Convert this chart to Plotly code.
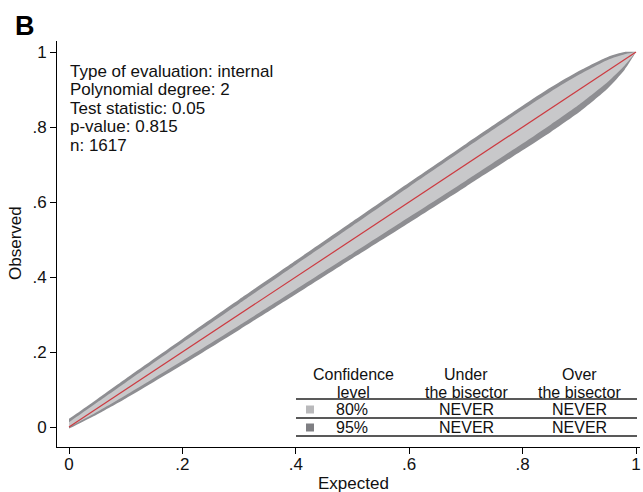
import plotly.graph_objects as go

# ---- data ----
grid_x = [0, 0.02, 0.05, 0.1, 0.2, 0.3, 0.4, 0.5, 0.6, 0.7, 0.8, 0.85, 0.9, 0.95, 0.98, 1.0]
# offsets of the confidence band edges from the bisector (observed units)
up95 = [0.022, 0.023, 0.025, 0.029, 0.035, 0.040, 0.044, 0.048, 0.052, 0.055, 0.057, 0.056, 0.050, 0.037, 0.020, 0.0]
lo95 = [0.004, 0.009, 0.016, 0.024, 0.034, 0.041, 0.046, 0.050, 0.055, 0.059, 0.062, 0.063, 0.060, 0.047, 0.027, 0.0]
up80 = [0.013, 0.014, 0.016, 0.019, 0.025, 0.029, 0.033, 0.037, 0.041, 0.044, 0.046, 0.045, 0.040, 0.029, 0.014, 0.0]
lo80 = [0.000, 0.004, 0.009, 0.015, 0.023, 0.029, 0.033, 0.037, 0.040, 0.043, 0.044, 0.043, 0.040, 0.030, 0.016, 0.0]

bisector_x = [0, 1]
bisector_y = [0, 1]

info_lines = ["Type of evaluation: internal", "Polynomial degree: 2",
              "Test statistic: 0.05", "p-value: 0.815", "n: 1617"]
table_cols = ["Under", "Over"]
table_levels = ["80%", "95%"]
table_under = ["NEVER", "NEVER"]
table_over = ["NEVER", "NEVER"]

tick_vals = [0, 0.2, 0.4, 0.6, 0.8, 1]
tick_text = ["0", ".2", ".4", ".6", ".8", "1"]

LIGHT = "#c8c8ca"
DARK = "#8e8e92"
RED = "#cc3a40"
FONT = "Liberation Sans, Arial, sans-serif"
FS = 17
FS_TAB = 16

# ---- geometry ----
W, H = 643, 492
L, R, T, B = 57, 3, 41, 45
X0PX, X1PX = 69, 636   # pixel of x=0 and x=1
Y0PX, Y1PX = 427, 52   # pixel of y=0 and y=1
sx = (X1PX - X0PX)
sy = (Y0PX - Y1PX)
xr = [(L - X0PX) / sx, (W - R - X0PX) / sx]
yr = [(Y0PX - (H - B)) / sy, (Y0PX - T) / sy]

def dx(px):
    return (px - X0PX) / sx

def dy(py):
    return (Y0PX - py) / sy

def band(up, lo):
    xs = list(grid_x) + list(reversed(grid_x))
    ys = [x + u for x, u in zip(grid_x, up)] + [x - l for x, l in reversed(list(zip(grid_x, lo)))]
    return xs, ys

fig = go.Figure()
bx, by = band(up95, lo95)
fig.add_trace(go.Scatter(x=bx, y=by, fill="toself", fillcolor=DARK, line=dict(width=0, shape="spline", smoothing=0.6),
                         mode="lines", hoverinfo="skip", showlegend=False))
bx, by = band(up80, lo80)
fig.add_trace(go.Scatter(x=bx, y=by, fill="toself", fillcolor=LIGHT, line=dict(width=0, shape="spline", smoothing=0.6),
                         mode="lines", hoverinfo="skip", showlegend=False))
fig.add_trace(go.Scatter(x=bisector_x, y=bisector_y, mode="lines", line=dict(color=RED, width=1.2),
                         hoverinfo="skip", showlegend=False))

ann = []
# info text block
for i, t in enumerate(info_lines):
    ann.append(dict(x=dx(68), y=dy(71 + i * 18.5), xref="x", yref="y", text=t, showarrow=False,
                    xanchor="left", yanchor="middle", font=dict(size=FS, color="#111")))
# table header
hy = [374.5, 392]
ann += [
    dict(x=dx(353), y=dy(hy[0]), text="Confidence"), dict(x=dx(353), y=dy(hy[1]), text="level"),
    dict(x=dx(466), y=dy(hy[0]), text=table_cols[0]), dict(x=dx(466), y=dy(hy[1]), text="the bisector"),
    dict(x=dx(579), y=dy(hy[0]), text=table_cols[1]), dict(x=dx(579), y=dy(hy[1]), text="the bisector"),
]
row_y = [409.5, 427.5]
for i in range(2):
    ann += [dict(x=dx(352), y=dy(row_y[i]), text=table_levels[i]),
            dict(x=dx(466), y=dy(row_y[i]), text=table_under[i]),
            dict(x=dx(579), y=dy(row_y[i]), text=table_over[i])]
for a in ann[len(info_lines):]:
    a.update(xref="x", yref="y", showarrow=False, xanchor="center", yanchor="middle",
             font=dict(size=FS_TAB, color="#111"))

# panel letter and axis titles
ann.append(dict(x=(25 - L) / (W - L - R), y=(H - B - 26) / (H - T - B), xref="paper", yref="paper",
                text="<b>B</b>", showarrow=False, xanchor="center", yanchor="middle",
                font=dict(size=27, color="#000")))
ann.append(dict(x=(16 - L) / (W - L - R), y=(H - B - 243) / (H - T - B), xref="paper", yref="paper",
                text="Observed", textangle=-90, showarrow=False, xanchor="center", yanchor="middle",
                font=dict(size=FS, color="#111")))
ann.append(dict(x=dx(353), y=(H - B - 483) / (H - T - B), xref="x", yref="paper",
                text="Expected", showarrow=False, xanchor="center", yanchor="middle",
                font=dict(size=FS, color="#111")))

shapes = []
for py in [399, 418, 436]:
    shapes.append(dict(type="line", xref="x", yref="y", x0=dx(296), x1=dx(637), y0=dy(py), y1=dy(py),
                       line=dict(color="#222", width=1.3)))
sq_col = ["#b9b9bb", "#7f7f83"]
for i in range(2):
    shapes.append(dict(type="rect", xref="x", yref="y", x0=dx(306), x1=dx(314),
                       y0=dy(row_y[i] + 4), y1=dy(row_y[i] - 4), fillcolor=sq_col[i], line=dict(width=0)))

axis_common = dict(showgrid=False, zeroline=False, showline=True, linecolor="#000", linewidth=1,
                   ticks="outside", ticklen=6, tickwidth=1, tickcolor="#000",
                   tickvals=tick_vals, ticktext=tick_text,
                   tickfont=dict(size=FS, color="#111", family=FONT))
fig.update_layout(
    width=W, height=H, margin=dict(l=L, r=R, t=T, b=B),
    paper_bgcolor="white", plot_bgcolor="white",
    font=dict(family=FONT, size=FS, color="#111"),
    xaxis=dict(range=xr, ticklabelstandoff=-4, **axis_common),
    yaxis=dict(range=yr, **axis_common),
    annotations=ann, shapes=shapes, showlegend=False,
)
fig.write_html("out.html")
